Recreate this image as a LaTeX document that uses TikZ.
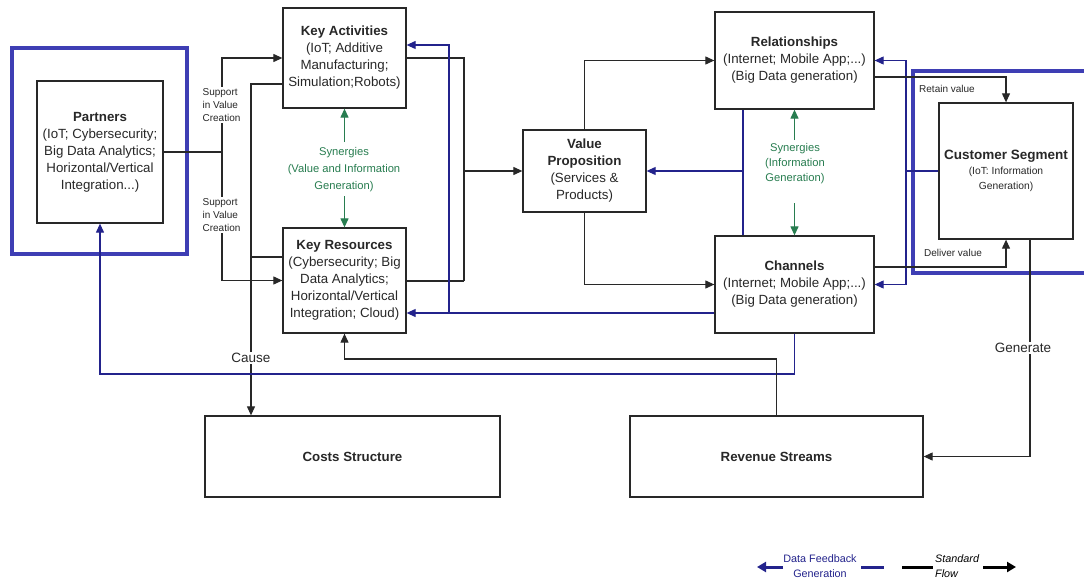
\documentclass[tikz,border=0pt]{standalone}
\usepackage{fontspec}
\setmainfont{Liberation Sans}
\usetikzlibrary{arrows.meta}
\definecolor{navy}{RGB}{35,35,140}
\definecolor{framec}{RGB}{62,62,180}
\definecolor{syngreen}{RGB}{40,125,80}
\definecolor{ink}{RGB}{40,40,40}
\begin{document}
\begin{tikzpicture}[x=1pt,y=-1pt,
  box/.style={draw=ink, line width=1.3pt, align=center, inner sep=0pt, font=\fontsize{13.3}{17}\selectfont, text=ink},
  conn/.style={draw=ink, line width=1.1pt},
  flow/.style={conn, -{Triangle[length=9pt,width=8pt]}},
  fbline/.style={draw=navy, line width=1.1pt},
  fb/.style={fbline, -{Triangle[length=9pt,width=8pt]}},
  syn/.style={draw=syngreen, line width=1.2pt, -{Triangle[length=9pt,width=8pt]}},
  synlbl/.style={text=syngreen, align=center, inner sep=1pt},
  small/.style={font=\fontsize{10}{13}\selectfont, text=ink, inner sep=1pt},
  mid/.style={font=\fontsize{13.5}{16}\selectfont, fill=white, inner sep=1pt, text=ink},
  framebox/.style={draw=framec, line width=4.5pt}
]
\useasboundingbox (0,0) rectangle (1084,578);
\fill[white] (0,0) rectangle (1084,578);

% frames
\node[framebox, minimum width=175pt, minimum height=206pt, inner sep=0pt] (paf) at (99.5,151) {};
\draw[framebox] (1090,71) -- (913,71) -- (913,273) -- (1090,273);

% boxes
\node[box, minimum width=126pt, minimum height=142pt] (pa) at (100,152)
  {\textbf{Partners}\\(IoT; Cybersecurity;\\Big Data Analytics;\\Horizontal/Vertical\\Integration...)};
\node[box, minimum width=123pt, minimum height=100pt] (ka) at (344.5,58)
  {\textbf{Key Activities}\\(IoT; Additive\\Manufacturing;\\Simulation;Robots)};
\node[box, minimum width=123pt, minimum height=105pt] (kr) at (344.5,280.5)
  {\textbf{Key Resources}\\(Cybersecurity; Big\\Data Analytics;\\Horizontal/Vertical\\Integration; Cloud)};
\node[box, minimum width=123pt, minimum height=82pt] (vp) at (584.5,171)
  {\textbf{Value}\\\textbf{Proposition}\\(Services \&\\Products)};
\node[box, minimum width=159pt, minimum height=97pt] (rel) at (794.5,60.5)
  {\textbf{Relationships}\\(Internet; Mobile App;...)\\(Big Data generation)};
\node[box, minimum width=159pt, minimum height=97pt] (ch) at (794.5,284.5)
  {\textbf{Channels}\\(Internet; Mobile App;...)\\(Big Data generation)};
\node[box, minimum width=134pt, minimum height=136pt, font=\fontsize{10.3}{15}\selectfont] (cs) at (1006,171)
  {{\fontsize{13.5}{15}\selectfont\bfseries Customer Segment}\\(IoT: Information\\Generation)};
\node[box, minimum width=295pt, minimum height=81pt] (costs) at (352.5,456.5) {\textbf{Costs Structure}};
\node[box, minimum width=293pt, minimum height=81pt] (rev) at (776.5,456.5) {\textbf{Revenue Streams}};

% junction coordinates
\coordinate (sj) at (222,152);
\coordinate (cx) at (251,84);
\coordinate (vj) at (464,281);
\coordinate (rj) at (743,171);
\coordinate (fj) at (449,313);
\coordinate (cj) at (906,171);

% partners support
\draw[conn] (pa.east) -- (sj);
\draw[flow] (sj) |- (ka.west);
\draw[flow] (sj) |- (kr.west);
\node[small, align=left, fill=white] (sup1) at (221.5,105) {Support\\in Value\\Creation};
\node[small, align=left, fill=white] (sup2) at (221.5,215) {Support\\in Value\\Creation};

% cause
\draw[flow] (ka.west |- cx) -| (costs.north -| cx);
\draw[conn] (kr.west |- 0,257) -- (cx |- 0,257);
\node[mid] (cause) at (251,358) {Cause};

% to value proposition
\draw[conn] (ka.east) -| (vj);
\draw[conn] (kr.east |- vj) -- (vj);
\draw[flow] (vj |- vp.west) -- (vp.west);

% value proposition to relationships / channels
\draw[flow] (vp.north) |- (rel.west);
\draw[flow] (vp.south) |- (ch.west);

% feedback from relationships/channels to VP
\draw[fbline] (rel.south -| rj) -- (ch.north -| rj);
\draw[fb] (rj) -- (vp.east);

% feedback from channels to key activities / resources
\draw[fb] (ch.west |- fj) -- (kr.east |- fj);
\draw[fb] (fj) |- (ka.east |- 0,45);

% feedback from customer segment
\draw[fbline] (cs.west) -- (cj);
\draw[fb] (cj) |- (rel.east);
\draw[fb] (cj) |- (ch.east);

% retain / deliver value
\draw[flow] (rel.east |- 0,77) -| (cs.north);
\node[small] (retain) at (947,89) {Retain value};
\draw[flow] (ch.east |- 0,267) -| (cs.south);
\node[small] (deliver) at (953,253) {Deliver value};

% generate
\draw[flow] (cs.south -| 1030,0) |- (rev.east);
\node[mid] (gen) at (1023,348) {Generate};

% channels feedback to partners
\draw[fb] (ch.south) |- (pa.south |- 0,374) -- (pa.south);

% revenue to key resources
\draw[flow] (rev.north) |- (kr.south |- 0,359) -- (kr.south);

% synergies
\draw[syn] (344.5,142) -- (ka.south);
\draw[syn] (344.5,196) -- (kr.north);
\node[synlbl, font=\fontsize{11.2}{17}\selectfont] (syn1) at (344,170) {Synergies\\(Value and Information\\Generation)};
\draw[syn] (794.5,140) -- (rel.south);
\draw[syn] (794.5,203) -- (ch.north);
\node[synlbl, font=\fontsize{11.2}{15}\selectfont] (syn2) at (795,164) {Synergies\\(Information\\Generation)};

% legend
\coordinate (l1a) at (783,567); \coordinate (l1b) at (757,567);
\coordinate (l2a) at (861,567); \coordinate (l2b) at (884,567);
\coordinate (l3a) at (902,567); \coordinate (l3b) at (933,567);
\coordinate (l4a) at (983,567); \coordinate (l4b) at (1016,567);
\draw[draw=navy, line width=3pt, -{Triangle[length=9pt,width=10pt]}] (l1a) -- (l1b);
\draw[draw=navy, line width=3pt] (l2a) -- (l2b);
\draw[draw=black, line width=3pt] (l3a) -- (l3b);
\draw[draw=black, line width=3pt, -{Triangle[length=9pt,width=10pt]}] (l4a) -- (l4b);
\node[text=navy, align=center, font=\fontsize{10.8}{15}\selectfont, inner sep=0pt] (legfb) at (820,566) {Data Feedback\\Generation};
\node[text=black, align=left, font=\fontsize{10.8}{15}\selectfont\itshape, inner sep=0pt, anchor=west] (legsf) at (935,566) {Standard\\Flow};
\end{tikzpicture}
\end{document}
